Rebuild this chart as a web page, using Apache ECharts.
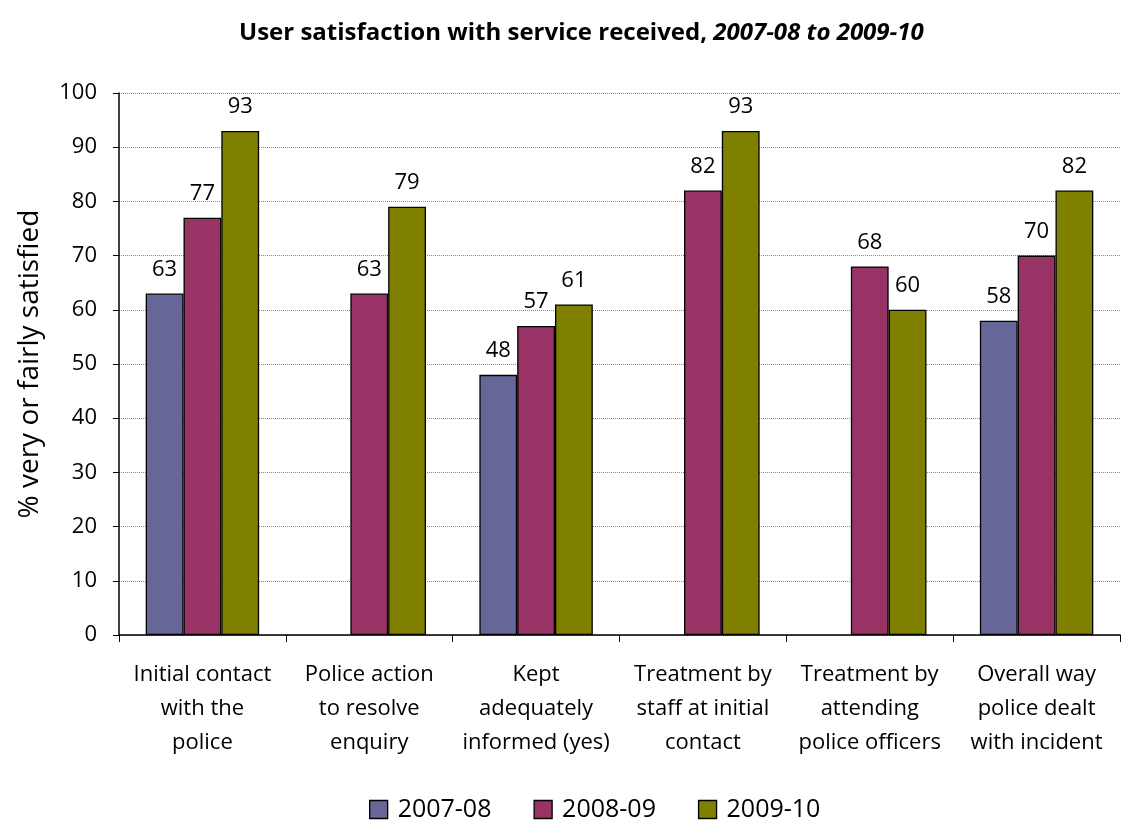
<!DOCTYPE html>
<html><head><meta charset="utf-8">
<script src="https://cdn.jsdelivr.net/npm/echarts@6/dist/echarts.min.js"></script>
<style>html,body{margin:0;padding:0;background:#fff}#c{width:1129px;height:823px}</style>
</head><body><div id="c"></div>
<script>
const categories = [
  "Initial contact\nwith the\npolice",
  "Police action\nto resolve\nenquiry",
  "Kept\nadequately\ninformed (yes)",
  "Treatment by\nstaff at initial\ncontact",
  "Treatment by\nattending\npolice officers",
  "Overall way\npolice dealt\nwith incident"
];
const seriesNames = ["2007-08", "2008-09", "2009-10"];
const v2007 = [63, null, 48, null, null, 58];
const v2008 = [77, 63, 57, 82, 68, 70];
const v2009 = [93, 79, 61, 93, 60, 82];
const colors = ["#666699", "#993366", "#808000"];
const yTicks = [0, 10, 20, 30, 40, 50, 60, 70, 80, 90, 100];

const FONT = "'Open Sans', Lato, sans-serif";
const chart = echarts.init(document.getElementById('c'));
function mk(name, data, color) {
  return {
    name, type: 'bar', data,
    barGap: '0%', barCategoryGap: '32%',
    itemStyle: { color, borderColor: '#000', borderWidth: 1.3 },
    label: { show: true, position: 'top', distance: 13, color: '#000', fontSize: 22, fontFamily: FONT }
  };
}
chart.setOption({
  animation: false,
  title: {
    text: '{b|User satisfaction with service received, }{i|2007-08 to 2009-10}',
    left: 234, top: 16,
    textStyle: { rich: {
      b: { fontSize: 24, fontWeight: 'bold', fontFamily: FONT, color: '#000' },
      i: { fontSize: 24, fontWeight: 'bold', fontStyle: 'italic', fontFamily: FONT, color: '#000' }
    } }
  },
  legend: {
    top: 792, left: 364, itemWidth: 18, itemHeight: 18, itemGap: 42, icon: 'rect',
    textStyle: { fontSize: 25, fontFamily: FONT, color: '#000', padding: [0, 0, 0, 5] },
    itemStyle: { borderColor: '#000', borderWidth: 1.3 },
    data: seriesNames
  },
  grid: { left: 119, right: 9, top: 93, bottom: 188, containLabel: false },
  xAxis: {
    type: 'category', data: categories,
    axisLine: { lineStyle: { color: '#000', width: 1.5 } },
    axisTick: { show: true, length: 7, lineStyle: { color: '#000' } },
    axisLabel: { interval: 0, margin: 23, lineHeight: 34, fontSize: 22, fontFamily: FONT, color: '#000' }
  },
  yAxis: {
    type: 'value', min: 0, max: 100, interval: 10,
    name: '% very or fairly satisfied', nameLocation: 'middle', nameGap: 75,
    nameTextStyle: { fontSize: 28, fontFamily: FONT, color: '#000' },
    axisLine: { show: true, lineStyle: { color: '#000', width: 1.5 } },
    axisTick: { show: true, length: 6, lineStyle: { color: '#000' } },
    axisLabel: { margin: 22, fontSize: 22, fontFamily: FONT, color: '#000',
      formatter: v => yTicks.includes(v) ? String(v) : '' },
    splitLine: { show: true, lineStyle: { color: '#888', type: 'dotted', width: 1 } }
  },
  series: [mk(seriesNames[0], v2007, colors[0]), mk(seriesNames[1], v2008, colors[1]), mk(seriesNames[2], v2009, colors[2])]
});
</script></body></html>
